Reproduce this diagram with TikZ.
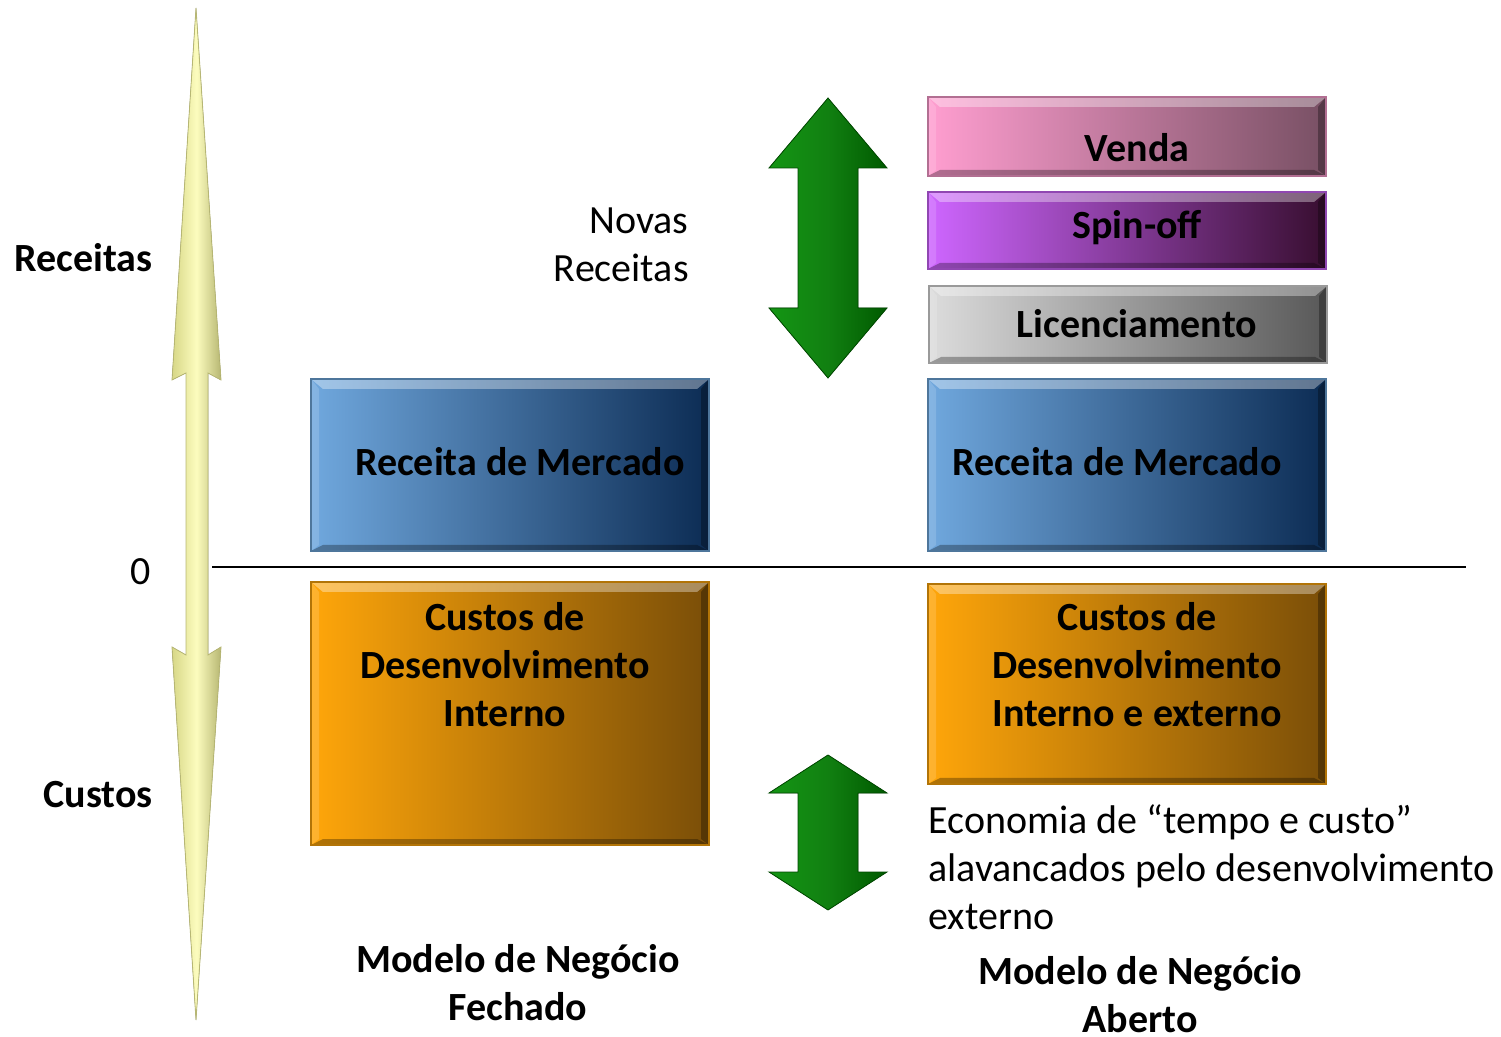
\documentclass[tikz,border=0pt]{standalone}
\usepackage{fontspec}
\setmainfont{Carlito}
\usetikzlibrary{positioning}

\definecolor{blueL}{RGB}{112,168,222}
\definecolor{blueD}{RGB}{12,44,84}
\definecolor{orangeL}{RGB}{255,166,10}
\definecolor{orangeD}{RGB}{122,78,8}
\definecolor{pinkL}{RGB}{255,158,208}
\definecolor{pinkD}{RGB}{120,80,100}
\definecolor{purpleL}{RGB}{206,102,255}
\definecolor{purpleD}{RGB}{56,14,48}
\definecolor{grayL}{RGB}{220,220,220}
\definecolor{grayD}{RGB}{88,88,88}
\definecolor{greenL}{RGB}{20,150,20}
\definecolor{greenD}{RGB}{0,90,0}
\definecolor{yellowL}{RGB}{252,252,190}
\definecolor{yellowD}{RGB}{215,215,135}

\tikzset{
  bevel/.style={path picture={
    \fill[white,opacity=.35] (path picture bounding box.north west) -- (path picture bounding box.north east)
      -- ([xshift=-6pt,yshift=-5pt]path picture bounding box.north east) -- ([xshift=6pt,yshift=-5pt]path picture bounding box.north west) -- cycle;
    \fill[black,opacity=.3] (path picture bounding box.south west) -- (path picture bounding box.south east)
      -- ([xshift=-6pt,yshift=3pt]path picture bounding box.south east) -- ([xshift=6pt,yshift=3pt]path picture bounding box.south west) -- cycle;
    \fill[black,opacity=.3] (path picture bounding box.north east) -- (path picture bounding box.south east)
      -- ([xshift=-4pt,yshift=3pt]path picture bounding box.south east) -- ([xshift=-4pt,yshift=-5pt]path picture bounding box.north east) -- cycle;
    \fill[white,opacity=.15] (path picture bounding box.north west) -- (path picture bounding box.south west)
      -- ([xshift=4pt,yshift=3pt]path picture bounding box.south west) -- ([xshift=4pt,yshift=-5pt]path picture bounding box.north west) -- cycle;
  }},
  mbox/.style={draw=#1L!70!black, line width=0.6pt, left color=#1L, right color=#1D, bevel,
    minimum width=199pt, inner sep=0pt, outer sep=0pt},
  lbl/.style={align=center, inner sep=0pt},
  bigarrow/.style={draw=greenD!80!black, line width=0.4pt, left color=greenL, right color=greenD, middle color=greenL!85!black},
}

\begin{document}
\fontsize{20}{24}\selectfont
\begin{tikzpicture}[x=0.5pt,y=-0.5pt]
\useasboundingbox (0,0) rectangle (1501,1037);

% axis arrow
\fill[draw=yellowD!85!black, line width=0.4pt, left color=yellowD, right color=yellowD!85!black, middle color=yellowL]
  (196,8) -- (221,380) -- (208,373) -- (208,655) -- (221,647) -- (196,1020)
  -- (172,647) -- (186,655) -- (186,373) -- (172,380) -- cycle;
\node[lbl, font=\bfseries, anchor=east] (rec) at (153,258) {Receitas};
\node[lbl, font=\bfseries, anchor=east] (cus) at (153,795) {Custos};
\node[lbl] (zero) at (141,572) {0};

% zero line
\coordinate (z0) at (212,567);
\coordinate (z1) at (1466,567);
\draw[line width=1pt] (z0) -- (z1);

% closed model
\node[mbox=blue, minimum height=86pt] (rmF) at (510,465) {};
\node[lbl, font=\bfseries] (rmFt) at ([shift={(10,-3)}]rmF.center) {Receita de Mercado};
\node[mbox=orange, minimum height=131.5pt] (cdF) at (510,713.5) {};
\node[lbl, font=\bfseries] (cdFt) at (505,665) {Custos de\\Desenvolvimento\\Interno};
\node[lbl, font=\bfseries] (mF) at (518,983) {Modelo de Negócio\\Fechado};

% open model
\node[mbox=pink, minimum height=39.5pt] (ven) at (1127,136.5) {};
\node[lbl, font=\bfseries] (vent) at ([shift={(10,11)}]ven.center) {Venda};
\node[mbox=purple, minimum height=38.5pt] (spin) at (1127,230.5) {};
\node[lbl, font=\bfseries] (spint) at ([shift={(10,-3)}]spin.center) {Spin-off};
\node[mbox=gray, minimum height=38.5pt] (lic) at (1128,324.5) {};
\node[lbl, font=\bfseries] (lict) at ([shift={(9,-1)}]lic.center) {Licenciamento};
\node[mbox=blue, minimum height=86pt] (rmA) at (1127,465) {};
\node[lbl, font=\bfseries] (rmAt) at ([shift={(-10,-3)}]rmA.center) {Receita de Mercado};
\node[mbox=orange, minimum height=100pt] (cdA) at (1127,684) {};
\node[lbl, font=\bfseries] (cdAt) at (1137,665) {Custos de\\Desenvolvimento\\Interno e externo};
\node[lbl] (eco) [anchor=west] at (928,872) {\begin{tabular}{@{}l@{}}Economia de “tempo e custo”\\alavancados pelo desenvolvimento\\externo\end{tabular}};
\node[lbl, font=\bfseries] (mA) at (1140,995) {Modelo de Negócio\\Aberto};

% green arrows
\fill[bigarrow] (828,98) -- (887,168) -- (858,168) -- (858,308) -- (887,308) -- (828,378)
  -- (769,308) -- (798,308) -- (798,168) -- (769,168) -- cycle;
\node[lbl, align=right, anchor=east] (nov) at (689,245) {Novas\\Receitas};
\fill[bigarrow] (828,755) -- (887,793) -- (858,793) -- (858,872) -- (887,872) -- (828,910)
  -- (769,872) -- (798,872) -- (798,793) -- (769,793) -- cycle;
\end{tikzpicture}
\end{document}
